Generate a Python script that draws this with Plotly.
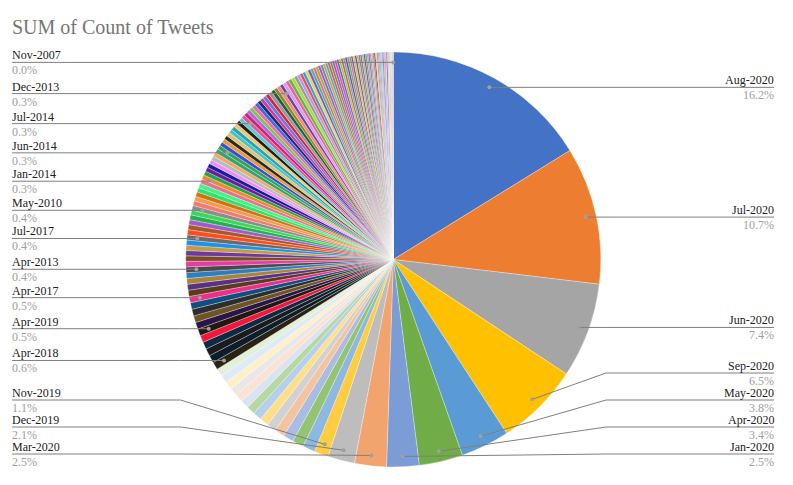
import math
import plotly.graph_objects as go

# Tweet counts per month, listed in pivot order (largest first)
months = [
    "Aug-2020", "Jul-2020", "Jun-2020", "Sep-2020", "May-2020", "Apr-2020", "Jan-2020", "Mar-2020", "Dec-2019", "Nov-2019",
    "Feb-2020", "Oct-2019", "Sep-2019", "Aug-2019", "Jul-2019", "Jun-2019", "May-2019", "Mar-2019", "Jan-2019", "Feb-2019",
    "Dec-2018", "Oct-2018", "Nov-2018", "Sep-2018",
    "Apr-2018", "May-2018", "Mar-2018", "Jun-2018", "Aug-2018",
    "Apr-2019", "Jul-2018", "Jan-2018", "Feb-2018", "Oct-2017",
    "Apr-2017", "Nov-2017", "Dec-2017", "Sep-2017", "Mar-2017",
    "Apr-2013", "Aug-2017", "Jun-2017", "May-2017", "Feb-2017", "Jan-2017",
    "Jul-2017", "Dec-2016", "Oct-2016", "Nov-2016", "Mar-2013", "May-2013",
    "May-2010", "Sep-2016", "Aug-2016", "Jun-2013", "Apr-2010", "Jul-2016", "Feb-2014",
    "Jan-2014", "Mar-2014", "Apr-2014", "Nov-2013", "Jun-2016", "May-2016", "Apr-2016", "Mar-2016",
    "Jun-2014", "May-2014", "Aug-2014", "Jan-2013", "Feb-2013", "Jul-2013", "Sep-2014", "Feb-2016", "Jan-2016", "Oct-2014",
    "Jul-2014", "Aug-2013", "Sep-2013", "Oct-2013", "Nov-2014", "Dec-2014", "Dec-2015", "Nov-2015", "Oct-2015", "Mar-2010",
    "Jun-2010", "Jan-2015", "Feb-2015", "Mar-2015",
    "Dec-2013",
    "Apr-2015", "May-2015", "Jun-2015", "Jul-2015", "Aug-2015", "Sep-2015", "Dec-2012", "Nov-2012", "Oct-2012", "Sep-2012",
    "Aug-2012", "Jul-2010", "Aug-2010", "Jun-2012", "Jul-2012", "May-2012", "Apr-2012", "Mar-2012", "Feb-2012", "Jan-2012",
    "Dec-2011", "Nov-2011", "Sep-2010", "Oct-2010", "Oct-2011", "Sep-2011", "Aug-2011", "Jul-2011", "Jun-2011", "Nov-2010",
    "Dec-2010", "May-2011", "Apr-2011", "Mar-2011", "Feb-2011", "Jan-2011", "Feb-2010", "Jan-2010", "Dec-2009", "Nov-2009",
    "Oct-2009", "Sep-2009", "Aug-2009", "Jul-2009", "Jun-2009", "May-2009", "Apr-2009", "Mar-2009", "Feb-2009", "Jan-2009",
    "Dec-2008", "Nov-2008", "Oct-2008", "Sep-2008", "Aug-2008", "Jul-2008", "Jun-2008", "May-2008", "Apr-2008", "Mar-2008",
    "Feb-2008", "Jan-2008", "Dec-2007",
    "Nov-2007",
]

tweets = [
    1620, 1070, 740, 650, 380, 340, 252, 248, 210, 110,
    96, 88, 82, 77, 72, 70, 68, 66, 65, 64,
    63, 62, 61, 60,
    60, 59, 58, 56, 55,
    54, 53, 53, 52, 51,
    50, 48, 46, 45, 45,
    44, 43, 42, 41, 41, 40,
    40, 40, 39, 39, 38, 37,
    37, 36, 36, 36, 35, 35, 35,
    34, 33, 33, 33, 32, 32, 32, 32,
    32, 31, 31, 30, 30, 30, 30, 30, 29, 29,
    29, 29, 28, 28, 28, 27, 27, 27, 27, 27,
    27, 27, 26, 26,
    26,
    26, 26, 25, 25, 24, 24, 23, 23, 22, 22,
    21, 21, 20, 20, 20, 19, 19, 19, 18, 18,
    18, 17, 17, 17, 16, 16, 16, 15, 15, 15,
    14, 14, 14, 13, 13, 13, 12, 12, 12, 11,
    11, 11, 10, 10, 10, 9, 9, 9, 8, 8,
    8, 7, 7, 7, 6, 6, 6, 5, 5, 5,
    4, 4, 3,
    2,
]

slice_colors = [
    "#4472C4", "#ED7D31", "#A5A5A5", "#FFC000", "#5B9BD5", "#70AD47", "#7C9CD6", "#F1A46E", "#BDBDBD", "#FFCD3F",
    "#8CB8E2", "#94C472", "#A9BDE4", "#F6C3A0", "#D2D2D2", "#FFDF8A", "#B4D0EC", "#B8D8A2", "#D9E3F4", "#FBE2D1",
    "#E8E8E8", "#FFF0C8", "#DEEBF7", "#E2EFD9", "#2B2311", "#0B1E2E", "#1B1B1B", "#0D2A44", "#F2163C", "#221810",
    "#2A1448", "#6E5422", "#2D2D2D", "#0F4F7D", "#EF2E8C", "#5C3B1C", "#5A2F86", "#A88437", "#2B7FC1", "#4A4A4A",
    "#E83BA5", "#7A4E22", "#6B3A9C", "#C59A45", "#1E90E6", "#6A6A6A", "#FF4B1C", "#A65A2C", "#A05ACD", "#21B24B",
    "#3BD65A", "#8C8C8C", "#F07C6C", "#F39A4E", "#CF7212", "#2FE26B", "#45F28A", "#EE6E92", "#E88C2C", "#27A34A",
    "#6C1C9C", "#1B1B9E", "#F48CF2", "#B4BCC4", "#F5A665", "#2EA66E", "#3F9E5E", "#3354D1", "#EF9A3A", "#2A2A2A",
    "#E2C46C", "#4BC4C9", "#2BA2B9", "#F4C86A", "#1F1F1F", "#58CDD0", "#E8559A", "#C8287A", "#B06ADB", "#7CC84C",
    "#F06BA8", "#4667DE", "#1C2D6E", "#D63A9C", "#5C7EE0", "#E8202A", "#8A9BB0", "#2F5D2F", "#8A8A2E", "#F08A7A",
    "#7B3FA8", "#C9A7E8", "#F45FA0", "#57B947", "#B7D44A", "#9A9A9A", "#B59BE0", "#E05555", "#39A0E0", "#F2D24B",
    "#7A5AC8", "#4FB58A", "#E0707E", "#8DB83A", "#C04DC0", "#5A8FD8", "#D8A030", "#3CB8B0", "#EE4E6E", "#6A9A3A",
    "#9B59D0", "#E8489A", "#3A6FD8", "#A8C62C", "#E8541E", "#2CB5E8", "#A0307A", "#3EBE4E", "#F052A8", "#556A8A",
    "#C8C82A", "#7038B0", "#E8A23A", "#20A0A0", "#E0308C", "#8CC83C", "#4050E0", "#B8702A", "#40C8B0", "#C830C8",
    "#6890E0", "#A0D028", "#E05078", "#303080", "#F0D030", "#888888", "#E860E8", "#30B0F0", "#98D050", "#D078D8",
    "#2850C8", "#A8A8A8", "#F03890", "#B8B8F0", "#202020", "#C890F0", "#70D040", "#E0E060", "#6060F0", "#C8C8C8",
    "#F060B0", "#E0E0E0", "#303030", "#F0A0C8", "#B0B0B0",
]

# Slices that carry an outside label with a leader line
labeled_months = [
    "Aug-2020", "Jul-2020", "Jun-2020", "Sep-2020", "May-2020", "Apr-2020", "Jan-2020",
    "Mar-2020", "Dec-2019", "Nov-2019", "Apr-2018", "Apr-2019", "Apr-2017", "Apr-2013",
    "Jul-2017", "May-2010", "Jan-2014", "Jun-2014", "Jul-2014", "Dec-2013", "Nov-2007",
]

assert len(months) == len(tweets) == len(slice_colors)

# ---- layout geometry (pixels, origin top-left) ----
W, H = 793, 485
CX, CY, R = 393.3, 259.5, 207.5
DOT_R = 0.95 * R
ELBOW = 1.025 * R
LEFT_X, RIGHT_X = 12, 774
GAP = 27
BOTTOM = 454

SERIF = "Liberation Serif, Times New Roman, serif"


def px(x):
    return x / W


def py(y):
    return 1 - y / H


total = sum(tweets)
mid_angle = {}
running = 0
for m, v in zip(months, tweets):
    mid_angle[m] = (running + v / 2) / total * 2 * math.pi
    running += v
value_of = dict(zip(months, tweets))

fig = go.Figure()
fig.add_trace(go.Pie(
    labels=months,
    values=tweets,
    sort=False,
    direction="clockwise",
    rotation=0,
    textinfo="none",
    marker=dict(colors=slice_colors, line=dict(color="white", width=0.3)),
    domain=dict(x=[px(CX - R), px(CX + R)], y=[py(CY + R), py(CY - R)]),
    hovertemplate="%{label}<br>%{value} tweets (%{percent})<extra></extra>",
    showlegend=False,
))

# anchor points on the slices
anchors = []
for m in labeled_months:
    a = mid_angle[m]
    ax = CX + DOT_R * math.sin(a)
    ay = CY - DOT_R * math.cos(a)
    anchors.append((m, ax, ay))

shapes = []
annotations = []

for side in ("left", "right"):
    group = [t for t in anchors if (t[1] < CX) == (side == "left")]
    group.sort(key=lambda t: -t[2])
    limit = BOTTOM
    for m, ax, ay in group:
        ly = min(ay, limit)
        limit = ly - GAP
        edge_x = LEFT_X if side == "left" else RIGHT_X
        elbow_x = CX - ELBOW if side == "left" else CX + ELBOW
        line_style = dict(color="#7f7f7f", width=1)
        shapes.append(dict(type="line", xref="paper", yref="paper",
                           x0=px(edge_x), y0=py(ly), x1=px(elbow_x), y1=py(ly),
                           line=line_style, layer="above"))
        shapes.append(dict(type="line", xref="paper", yref="paper",
                           x0=px(elbow_x), y0=py(ly), x1=px(ax), y1=py(ay),
                           line=line_style, layer="above"))
        shapes.append(dict(type="circle", xref="paper", yref="paper",
                           x0=px(ax - 2), x1=px(ax + 2), y0=py(ay + 2), y1=py(ay - 2),
                           fillcolor="#a0a0a0", line=dict(width=0), layer="above"))
        anchor = "left" if side == "left" else "right"
        annotations.append(dict(
            x=px(edge_x), y=py(ly), xref="paper", yref="paper",
            xanchor=anchor, yanchor="bottom", yshift=0, showarrow=False,
            borderpad=0, borderwidth=0,
            text=m, font=dict(family=SERIF, size=12, color="#222222"),
        ))
        pct = value_of[m] / total * 100
        annotations.append(dict(
            x=px(edge_x), y=py(ly), xref="paper", yref="paper",
            xanchor=anchor, yanchor="top", yshift=-1, showarrow=False,
            borderpad=0, borderwidth=0,
            text=f"{pct:.1f}%", font=dict(family=SERIF, size=12, color="#9e9e9e"),
        ))

annotations.append(dict(
    x=px(10), y=py(39.6), xref="paper", yref="paper",
    xanchor="left", yanchor="bottom", showarrow=False,
    text="SUM of Count of Tweets", font=dict(family=SERIF, size=20, color="#757575"),
))

fig.update_layout(
    width=W, height=H, autosize=False,
    margin=dict(l=0, r=0, t=0, b=0),
    paper_bgcolor="white", plot_bgcolor="white",
    showlegend=False,
    shapes=shapes,
    annotations=annotations,
)

fig.write_html("out.html")
